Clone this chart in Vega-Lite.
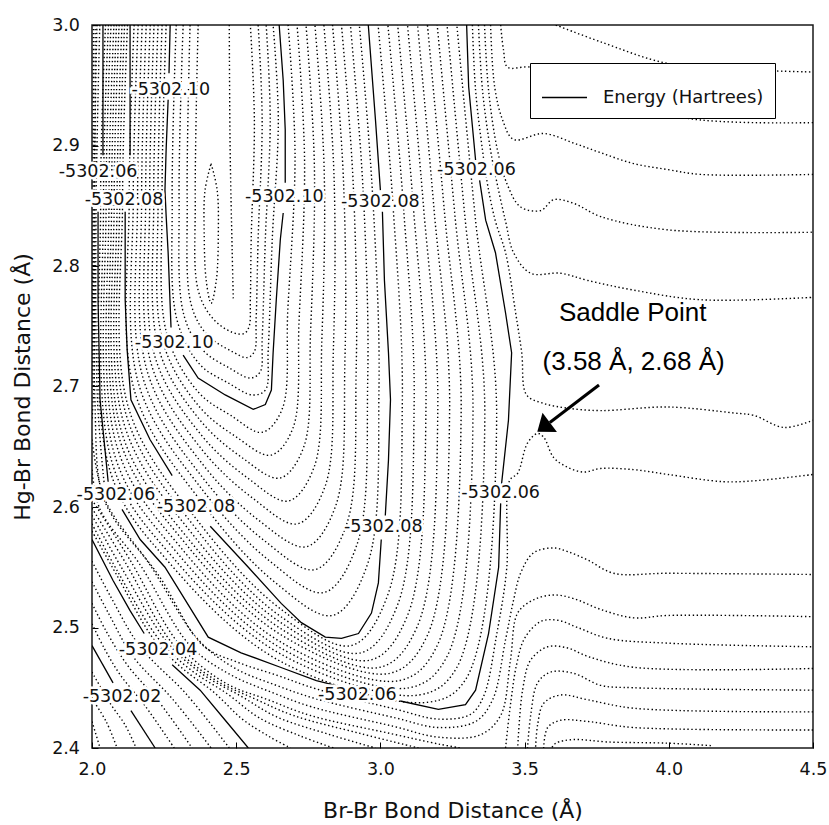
{
"$schema": "https://vega.github.io/schema/vega-lite/v6.json",
"width": 721, "height": 723,
"autosize": "none",
"padding": {"left": 92, "top": 25, "right": 16, "bottom": 77},
"background": "white",
"config": {
 "view": {"stroke": "#1a1a1a", "strokeWidth": 1.5},
 "axis": {"domain": false, "grid": false, "tickColor": "black", "tickSize": -6, "tickWidth": 1, "labelFont": "DejaVu Sans", "labelFontSize": 17.5, "labelColor": "#111", "labelPadding": 18.5, "labelFlush": false, "labelOverlap": false, "titleFont": "DejaVu Sans", "titleFontSize": 22, "titleFontWeight": "normal", "titleColor": "#111"},
 "axisX": {"titlePadding": 22},
 "axisY": {"titlePadding": 17}
},
"datasets": {
"solid": [
{"c":"S10a","x":2.271,"y":3.0},{"c":"S10a","x":2.267,"y":2.960},
{"c":"S10b","x":2.264,"y":2.938},{"c":"S10b","x":2.257,"y":2.896},{"c":"S10b","x":2.253,"y":2.863},{"c":"S10b","x":2.257,"y":2.842},{"c":"S10b","x":2.264,"y":2.811},{"c":"S10b","x":2.274,"y":2.749},
{"c":"S10c","x":2.316,"y":2.726},{"c":"S10c","x":2.368,"y":2.707},{"c":"S10c","x":2.462,"y":2.693},{"c":"S10c","x":2.559,"y":2.681},{"c":"S10c","x":2.601,"y":2.685},{"c":"S10c","x":2.622,"y":2.697},{"c":"S10c","x":2.628,"y":2.728},{"c":"S10c","x":2.639,"y":2.772},{"c":"S10c","x":2.653,"y":2.822},{"c":"S10c","x":2.663,"y":2.844},
{"c":"S10d","x":2.670,"y":2.869},{"c":"S10d","x":2.670,"y":2.913},{"c":"S10d","x":2.663,"y":2.954},{"c":"S10d","x":2.649,"y":3.0},
{"c":"S08a","x":2.132,"y":3.0},{"c":"S08a","x":2.132,"y":2.892},
{"c":"S08b","x":2.115,"y":2.845},{"c":"S08b","x":2.115,"y":2.772},{"c":"S08b","x":2.122,"y":2.730},{"c":"S08b","x":2.135,"y":2.689},{"c":"S08b","x":2.201,"y":2.656},{"c":"S08b","x":2.278,"y":2.626},
{"c":"S08c","x":2.410,"y":2.584},{"c":"S08c","x":2.542,"y":2.550},{"c":"S08c","x":2.656,"y":2.520},{"c":"S08c","x":2.726,"y":2.504},{"c":"S08c","x":2.809,"y":2.492},{"c":"S08c","x":2.865,"y":2.491},{"c":"S08c","x":2.924,"y":2.495},{"c":"S08c","x":2.969,"y":2.512},{"c":"S08c","x":2.993,"y":2.537},{"c":"S08c","x":3.003,"y":2.573},
{"c":"S08d","x":3.017,"y":2.593},{"c":"S08d","x":3.028,"y":2.639},{"c":"S08d","x":3.035,"y":2.689},{"c":"S08d","x":3.028,"y":2.728},{"c":"S08d","x":3.014,"y":2.788},{"c":"S08d","x":3.007,"y":2.845},
{"c":"S08e","x":3.0,"y":2.863},{"c":"S08e","x":2.983,"y":2.921},{"c":"S08e","x":2.958,"y":3.0},
{"c":"S06a","x":2.038,"y":3.0},{"c":"S06a","x":2.038,"y":2.892},
{"c":"S06b","x":2.021,"y":2.845},{"c":"S06b","x":2.021,"y":2.772},{"c":"S06b","x":2.028,"y":2.689},{"c":"S06b","x":2.056,"y":2.621},
{"c":"S06c","x":2.104,"y":2.598},{"c":"S06c","x":2.167,"y":2.573},{"c":"S06c","x":2.253,"y":2.550},{"c":"S06c","x":2.403,"y":2.492},{"c":"S06c","x":2.517,"y":2.479},{"c":"S06c","x":2.653,"y":2.467},{"c":"S06c","x":2.778,"y":2.456},{"c":"S06c","x":2.844,"y":2.452},
{"c":"S06d","x":3.069,"y":2.439},{"c":"S06d","x":3.201,"y":2.432},{"c":"S06d","x":3.295,"y":2.436},{"c":"S06d","x":3.330,"y":2.448},{"c":"S06d","x":3.375,"y":2.495},{"c":"S06d","x":3.410,"y":2.550},{"c":"S06d","x":3.417,"y":2.603},
{"c":"S06e","x":3.420,"y":2.619},{"c":"S06e","x":3.444,"y":2.672},{"c":"S06e","x":3.455,"y":2.728},{"c":"S06e","x":3.434,"y":2.761},{"c":"S06e","x":3.399,"y":2.811},{"c":"S06e","x":3.365,"y":2.838},{"c":"S06e","x":3.344,"y":2.871},
{"c":"S06f","x":3.330,"y":2.888},{"c":"S06f","x":3.306,"y":2.949},{"c":"S06f","x":3.299,"y":3.0},
{"c":"S04a","x":2.0,"y":2.573},{"c":"S04a","x":2.073,"y":2.539},{"c":"S04a","x":2.132,"y":2.514},{"c":"S04a","x":2.181,"y":2.495},
{"c":"S04b","x":2.278,"y":2.469},{"c":"S04b","x":2.375,"y":2.448},{"c":"S04b","x":2.462,"y":2.423},{"c":"S04b","x":2.542,"y":2.4},
{"c":"S02a","x":2.0,"y":2.485},{"c":"S02a","x":2.073,"y":2.454},
{"c":"S02b","x":2.135,"y":2.431},{"c":"S02b","x":2.219,"y":2.4}
],
"dots": [
{"c":"M1","x":2.257,"y":3.0},{"c":"M1","x":2.243,"y":2.855},{"c":"M1","x":2.260,"y":2.743},{"c":"M1","x":2.370,"y":2.695},{"c":"M1","x":2.481,"y":2.676},{"c":"M1","x":2.590,"y":2.662},{"c":"M1","x":2.659,"y":2.681},{"c":"M1","x":2.679,"y":2.764},{"c":"M1","x":2.704,"y":2.892},{"c":"M1","x":2.680,"y":3.0},
{"c":"M2","x":2.243,"y":3.0},{"c":"M2","x":2.229,"y":2.855},{"c":"M2","x":2.246,"y":2.737},{"c":"M2","x":2.373,"y":2.683},{"c":"M2","x":2.501,"y":2.658},{"c":"M2","x":2.620,"y":2.643},{"c":"M2","x":2.696,"y":2.665},{"c":"M2","x":2.718,"y":2.755},{"c":"M2","x":2.737,"y":2.888},{"c":"M2","x":2.711,"y":3.0},
{"c":"M3","x":2.229,"y":3.0},{"c":"M3","x":2.214,"y":2.855},{"c":"M3","x":2.232,"y":2.731},{"c":"M3","x":2.375,"y":2.672},{"c":"M3","x":2.520,"y":2.641},{"c":"M3","x":2.651,"y":2.624},{"c":"M3","x":2.733,"y":2.649},{"c":"M3","x":2.758,"y":2.747},{"c":"M3","x":2.771,"y":2.884},{"c":"M3","x":2.742,"y":3.0},
{"c":"M4","x":2.215,"y":3.0},{"c":"M4","x":2.200,"y":2.855},{"c":"M4","x":2.218,"y":2.725},{"c":"M4","x":2.378,"y":2.660},{"c":"M4","x":2.540,"y":2.624},{"c":"M4","x":2.681,"y":2.605},{"c":"M4","x":2.770,"y":2.633},{"c":"M4","x":2.797,"y":2.739},{"c":"M4","x":2.805,"y":2.880},{"c":"M4","x":2.773,"y":3.0},
{"c":"M5","x":2.202,"y":3.0},{"c":"M5","x":2.186,"y":2.855},{"c":"M5","x":2.205,"y":2.719},{"c":"M5","x":2.380,"y":2.648},{"c":"M5","x":2.559,"y":2.607},{"c":"M5","x":2.712,"y":2.586},{"c":"M5","x":2.808,"y":2.617},{"c":"M5","x":2.837,"y":2.731},{"c":"M5","x":2.839,"y":2.876},{"c":"M5","x":2.804,"y":3.0},
{"c":"M6","x":2.188,"y":3.0},{"c":"M6","x":2.172,"y":2.855},{"c":"M6","x":2.191,"y":2.713},{"c":"M6","x":2.382,"y":2.636},{"c":"M6","x":2.578,"y":2.589},{"c":"M6","x":2.743,"y":2.567},{"c":"M6","x":2.845,"y":2.601},{"c":"M6","x":2.877,"y":2.722},{"c":"M6","x":2.872,"y":2.871},{"c":"M6","x":2.834,"y":3.0},
{"c":"M7","x":2.174,"y":3.0},{"c":"M7","x":2.158,"y":2.855},{"c":"M7","x":2.177,"y":2.707},{"c":"M7","x":2.385,"y":2.624},{"c":"M7","x":2.598,"y":2.572},{"c":"M7","x":2.773,"y":2.548},{"c":"M7","x":2.882,"y":2.585},{"c":"M7","x":2.916,"y":2.714},{"c":"M7","x":2.906,"y":2.867},{"c":"M7","x":2.865,"y":3.0},
{"c":"M8","x":2.160,"y":3.0},{"c":"M8","x":2.143,"y":2.855},{"c":"M8","x":2.163,"y":2.701},{"c":"M8","x":2.387,"y":2.613},{"c":"M8","x":2.617,"y":2.555},{"c":"M8","x":2.804,"y":2.529},{"c":"M8","x":2.919,"y":2.569},{"c":"M8","x":2.956,"y":2.706},{"c":"M8","x":2.940,"y":2.863},{"c":"M8","x":2.896,"y":3.0},
{"c":"M9","x":2.146,"y":3.0},{"c":"M9","x":2.129,"y":2.855},{"c":"M9","x":2.149,"y":2.695},{"c":"M9","x":2.390,"y":2.601},{"c":"M9","x":2.637,"y":2.537},{"c":"M9","x":2.834,"y":2.510},{"c":"M9","x":2.956,"y":2.553},{"c":"M9","x":2.995,"y":2.698},{"c":"M9","x":2.973,"y":2.859},{"c":"M9","x":2.927,"y":3.0},
{"c":"N1","x":2.123,"y":3.0},{"c":"N1","x":2.106,"y":2.855},{"c":"N1","x":2.127,"y":2.682},{"c":"N1","x":2.378,"y":2.585},{"c":"N1","x":2.656,"y":2.515},{"c":"N1","x":2.899,"y":2.485},{"c":"N1","x":3.027,"y":2.528},{"c":"N1","x":3.076,"y":2.687},{"c":"N1","x":3.043,"y":2.853},{"c":"N1","x":2.992,"y":3.0},
{"c":"N2","x":2.113,"y":3.0},{"c":"N2","x":2.096,"y":2.855},{"c":"N2","x":2.119,"y":2.676},{"c":"N2","x":2.364,"y":2.581},{"c":"N2","x":2.655,"y":2.509},{"c":"N2","x":2.932,"y":2.479},{"c":"N2","x":3.060,"y":2.519},{"c":"N2","x":3.117,"y":2.686},{"c":"N2","x":3.079,"y":2.852},{"c":"N2","x":3.026,"y":3.0},
{"c":"N3","x":2.104,"y":3.0},{"c":"N3","x":2.087,"y":2.855},{"c":"N3","x":2.111,"y":2.669},{"c":"N3","x":2.350,"y":2.577},{"c":"N3","x":2.655,"y":2.504},{"c":"N3","x":2.966,"y":2.473},{"c":"N3","x":3.094,"y":2.510},{"c":"N3","x":3.158,"y":2.684},{"c":"N3","x":3.114,"y":2.850},{"c":"N3","x":3.060,"y":3.0},
{"c":"N4","x":2.094,"y":3.0},{"c":"N4","x":2.077,"y":2.855},{"c":"N4","x":2.103,"y":2.662},{"c":"N4","x":2.336,"y":2.573},{"c":"N4","x":2.655,"y":2.499},{"c":"N4","x":2.999,"y":2.467},{"c":"N4","x":3.128,"y":2.501},{"c":"N4","x":3.199,"y":2.682},{"c":"N4","x":3.150,"y":2.848},{"c":"N4","x":3.094,"y":3.0},
{"c":"N5","x":2.085,"y":3.0},{"c":"N5","x":2.068,"y":2.855},{"c":"N5","x":2.096,"y":2.656},{"c":"N5","x":2.323,"y":2.570},{"c":"N5","x":2.655,"y":2.494},{"c":"N5","x":3.033,"y":2.462},{"c":"N5","x":3.162,"y":2.493},{"c":"N5","x":3.240,"y":2.681},{"c":"N5","x":3.186,"y":2.847},{"c":"N5","x":3.129,"y":3.0},
{"c":"N6","x":2.076,"y":3.0},{"c":"N6","x":2.059,"y":2.855},{"c":"N6","x":2.088,"y":2.649},{"c":"N6","x":2.309,"y":2.566},{"c":"N6","x":2.654,"y":2.488},{"c":"N6","x":3.067,"y":2.456},{"c":"N6","x":3.195,"y":2.484},{"c":"N6","x":3.280,"y":2.679},{"c":"N6","x":3.222,"y":2.845},{"c":"N6","x":3.163,"y":3.0},
{"c":"N7","x":2.066,"y":3.0},{"c":"N7","x":2.049,"y":2.855},{"c":"N7","x":2.080,"y":2.642},{"c":"N7","x":2.295,"y":2.562},{"c":"N7","x":2.654,"y":2.483},{"c":"N7","x":3.100,"y":2.450},{"c":"N7","x":3.229,"y":2.475},{"c":"N7","x":3.321,"y":2.677},{"c":"N7","x":3.258,"y":2.843},{"c":"N7","x":3.197,"y":3.0},
{"c":"N8","x":2.057,"y":3.0},{"c":"N8","x":2.040,"y":2.855},{"c":"N8","x":2.072,"y":2.635},{"c":"N8","x":2.281,"y":2.558},{"c":"N8","x":2.654,"y":2.478},{"c":"N8","x":3.134,"y":2.444},{"c":"N8","x":3.263,"y":2.466},{"c":"N8","x":3.362,"y":2.675},{"c":"N8","x":3.293,"y":2.841},{"c":"N8","x":3.231,"y":3.0},
{"c":"N9","x":2.047,"y":3.0},{"c":"N9","x":2.030,"y":2.855},{"c":"N9","x":2.064,"y":2.629},{"c":"N9","x":2.267,"y":2.554},{"c":"N9","x":2.653,"y":2.472},{"c":"N9","x":3.167,"y":2.438},{"c":"N9","x":3.296,"y":2.457},{"c":"N9","x":3.403,"y":2.674},{"c":"N9","x":3.329,"y":2.840},{"c":"N9","x":3.265,"y":3.0},
{"c":"B1","x":2.292,"y":3.0},{"c":"B1","x":2.278,"y":2.855},{"c":"B1","x":2.295,"y":2.755},{"c":"B1","x":2.375,"y":2.718},{"c":"B1","x":2.472,"y":2.703},{"c":"B1","x":2.556,"y":2.693},{"c":"B1","x":2.601,"y":2.697},{"c":"B1","x":2.611,"y":2.730},{"c":"B1","x":2.625,"y":2.822},{"c":"B1","x":2.646,"y":2.921},{"c":"B1","x":2.628,"y":3.0},
{"c":"B2","x":2.316,"y":3.0},{"c":"B2","x":2.302,"y":2.855},{"c":"B2","x":2.319,"y":2.759},{"c":"B2","x":2.385,"y":2.730},{"c":"B2","x":2.479,"y":2.715},{"c":"B2","x":2.549,"y":2.707},{"c":"B2","x":2.583,"y":2.712},{"c":"B2","x":2.590,"y":2.739},{"c":"B2","x":2.601,"y":2.822},{"c":"B2","x":2.618,"y":2.921},{"c":"B2","x":2.604,"y":3.0},
{"c":"B3","x":2.340,"y":3.0},{"c":"B3","x":2.330,"y":2.855},{"c":"B3","x":2.344,"y":2.768},{"c":"B3","x":2.399,"y":2.743},{"c":"B3","x":2.486,"y":2.729},{"c":"B3","x":2.538,"y":2.724},{"c":"B3","x":2.563,"y":2.729},{"c":"B3","x":2.569,"y":2.755},{"c":"B3","x":2.576,"y":2.822},{"c":"B3","x":2.590,"y":2.921},{"c":"B3","x":2.576,"y":3.0},
{"c":"B4","x":2.368,"y":3.0},{"c":"B4","x":2.358,"y":2.855},{"c":"B4","x":2.368,"y":2.780},{"c":"B4","x":2.417,"y":2.757},{"c":"B4","x":2.486,"y":2.745},{"c":"B4","x":2.528,"y":2.744},{"c":"B4","x":2.545,"y":2.750},{"c":"B4","x":2.549,"y":2.772},{"c":"B4","x":2.552,"y":2.822},{"c":"B4","x":2.563,"y":2.921},{"c":"B4","x":2.549,"y":3.0},
{"c":"B5","x":2.413,"y":2.885},{"c":"B5","x":2.434,"y":2.863},{"c":"B5","x":2.438,"y":2.827},{"c":"B5","x":2.431,"y":2.788},{"c":"B5","x":2.413,"y":2.769},{"c":"B5","x":2.396,"y":2.788},{"c":"B5","x":2.389,"y":2.827},{"c":"B5","x":2.392,"y":2.863},{"c":"B5","x":2.413,"y":2.885},
{"c":"B6","x":2.476,"y":3.0},{"c":"B6","x":2.479,"y":2.896},{"c":"B6","x":2.486,"y":2.813},{"c":"B6","x":2.490,"y":2.772},
{"c":"U0","x":3.608,"y":3.0},{"c":"U0","x":3.764,"y":2.986},{"c":"U0","x":3.997,"y":2.968},{"c":"U0","x":4.250,"y":2.963},{"c":"U0","x":4.5,"y":2.961},
{"c":"U1","x":3.417,"y":3.0},{"c":"U1","x":3.427,"y":2.979},{"c":"U1","x":3.441,"y":2.965},{"c":"U1","x":3.521,"y":2.965},{"c":"U1","x":3.764,"y":2.946},{"c":"U1","x":4.052,"y":2.923},{"c":"U1","x":4.5,"y":2.919},
{"c":"U2","x":3.382,"y":3.0},{"c":"U2","x":3.396,"y":2.949},{"c":"U2","x":3.424,"y":2.921},{"c":"U2","x":3.462,"y":2.905},{"c":"U2","x":3.566,"y":2.910},{"c":"U2","x":3.670,"y":2.902},{"c":"U2","x":3.764,"y":2.894},{"c":"U2","x":3.878,"y":2.885},{"c":"U2","x":3.997,"y":2.880},{"c":"U2","x":4.111,"y":2.876},{"c":"U2","x":4.5,"y":2.876},
{"c":"U3","x":3.361,"y":3.0},{"c":"U3","x":3.375,"y":2.946},{"c":"U3","x":3.406,"y":2.896},{"c":"U3","x":3.441,"y":2.867},{"c":"U3","x":3.486,"y":2.849},{"c":"U3","x":3.556,"y":2.846},{"c":"U3","x":3.601,"y":2.855},{"c":"U3","x":3.670,"y":2.852},{"c":"U3","x":3.764,"y":2.841},{"c":"U3","x":3.997,"y":2.830},{"c":"U3","x":4.5,"y":2.828},
{"c":"U4","x":3.340,"y":3.0},{"c":"U4","x":3.354,"y":2.946},{"c":"U4","x":3.382,"y":2.896},{"c":"U4","x":3.406,"y":2.867},{"c":"U4","x":3.434,"y":2.837},{"c":"U4","x":3.462,"y":2.811},{"c":"U4","x":3.521,"y":2.794},{"c":"U4","x":3.625,"y":2.794},{"c":"U4","x":3.719,"y":2.788},{"c":"U4","x":3.878,"y":2.780},{"c":"U4","x":4.111,"y":2.772},{"c":"U4","x":4.5,"y":2.774},
{"c":"U5","x":3.319,"y":3.0},{"c":"U5","x":3.330,"y":2.946},{"c":"U5","x":3.354,"y":2.896},{"c":"U5","x":3.372,"y":2.867},{"c":"U5","x":3.399,"y":2.837},{"c":"U5","x":3.434,"y":2.811},{"c":"U5","x":3.469,"y":2.761},{"c":"U5","x":3.490,"y":2.728},{"c":"U5","x":3.507,"y":2.693},{"c":"U5","x":3.566,"y":2.686},{"c":"U5","x":3.649,"y":2.682},{"c":"U5","x":3.764,"y":2.680},{"c":"U5","x":3.997,"y":2.683},{"c":"U5","x":4.226,"y":2.678},{"c":"U5","x":4.295,"y":2.676},{"c":"U5","x":4.399,"y":2.666},{"c":"U5","x":4.5,"y":2.672},
{"c":"W1","x":2.017,"y":3.0},{"c":"W1","x":2.007,"y":2.845},{"c":"W1","x":2.010,"y":2.689},{"c":"W1","x":2.028,"y":2.618},{"c":"W1","x":2.069,"y":2.593},{"c":"W1","x":2.229,"y":2.544},{"c":"W1","x":2.385,"y":2.485},{"c":"W1","x":2.507,"y":2.471},{"c":"W1","x":2.646,"y":2.460},{"c":"W1","x":2.778,"y":2.449},{"c":"W1","x":3.056,"y":2.432},{"c":"W1","x":3.201,"y":2.424},{"c":"W1","x":3.313,"y":2.428},{"c":"W1","x":3.358,"y":2.443},{"c":"W1","x":3.403,"y":2.494},{"c":"W1","x":3.438,"y":2.549},{"c":"W1","x":3.448,"y":2.622},{"c":"W1","x":3.476,"y":2.628},{"c":"W1","x":3.510,"y":2.653},{"c":"W1","x":3.545,"y":2.661},{"c":"W1","x":3.566,"y":2.658},{"c":"W1","x":3.601,"y":2.641},{"c":"W1","x":3.649,"y":2.633},{"c":"W1","x":3.705,"y":2.629},{"c":"W1","x":3.764,"y":2.632},{"c":"W1","x":3.878,"y":2.631},{"c":"W1","x":3.997,"y":2.627},{"c":"W1","x":4.191,"y":2.621},{"c":"W1","x":4.309,"y":2.622},{"c":"W1","x":4.5,"y":2.627},
{"c":"W2","x":2.0,"y":2.656},{"c":"W2","x":2.045,"y":2.606},{"c":"W2","x":2.201,"y":2.552},{"c":"W2","x":2.368,"y":2.490},{"c":"W2","x":2.497,"y":2.466},{"c":"W2","x":2.639,"y":2.452},{"c":"W2","x":2.774,"y":2.441},{"c":"W2","x":3.052,"y":2.425},{"c":"W2","x":3.201,"y":2.417},{"c":"W2","x":3.330,"y":2.422},{"c":"W2","x":3.389,"y":2.440},{"c":"W2","x":3.434,"y":2.490},{"c":"W2","x":3.462,"y":2.523},{"c":"W2","x":3.486,"y":2.545},{"c":"W2","x":3.531,"y":2.562},{"c":"W2","x":3.601,"y":2.566},{"c":"W2","x":3.649,"y":2.563},{"c":"W2","x":3.719,"y":2.556},{"c":"W2","x":3.809,"y":2.545},{"c":"W2","x":3.997,"y":2.545},{"c":"W2","x":4.5,"y":2.544},
{"c":"W3","x":2.0,"y":2.631},{"c":"W3","x":2.028,"y":2.598},{"c":"W3","x":2.167,"y":2.552},{"c":"W3","x":2.340,"y":2.485},{"c":"W3","x":2.479,"y":2.461},{"c":"W3","x":2.625,"y":2.446},{"c":"W3","x":2.764,"y":2.434},{"c":"W3","x":3.045,"y":2.418},{"c":"W3","x":3.201,"y":2.409},{"c":"W3","x":3.347,"y":2.411},{"c":"W3","x":3.417,"y":2.427},{"c":"W3","x":3.451,"y":2.473},{"c":"W3","x":3.476,"y":2.512},{"c":"W3","x":3.531,"y":2.523},{"c":"W3","x":3.601,"y":2.527},{"c":"W3","x":3.670,"y":2.524},{"c":"W3","x":3.764,"y":2.515},{"c":"W3","x":3.878,"y":2.508},{"c":"W3","x":3.997,"y":2.510},{"c":"W3","x":4.5,"y":2.509},
{"c":"W4","x":2.0,"y":2.606},{"c":"W4","x":2.132,"y":2.556},{"c":"W4","x":2.306,"y":2.485},{"c":"W4","x":2.462,"y":2.454},{"c":"W4","x":2.611,"y":2.440},{"c":"W4","x":2.757,"y":2.427},{"c":"W4","x":3.035,"y":2.412},{"c":"W4","x":3.208,"y":2.403},{"c":"W4","x":3.278,"y":2.4},
{"c":"L4","x":3.434,"y":2.4},{"c":"L4","x":3.451,"y":2.436},{"c":"L4","x":3.472,"y":2.469},{"c":"L4","x":3.500,"y":2.491},{"c":"L4","x":3.556,"y":2.505},{"c":"L4","x":3.615,"y":2.506},{"c":"L4","x":3.684,"y":2.500},{"c":"L4","x":3.788,"y":2.491},{"c":"L4","x":3.997,"y":2.487},{"c":"L4","x":4.5,"y":2.484},
{"c":"L5","x":4.5,"y":2.466},{"c":"L5","x":3.878,"y":2.467},{"c":"L5","x":3.719,"y":2.476},{"c":"L5","x":3.649,"y":2.483},{"c":"L5","x":3.580,"y":2.484},{"c":"L5","x":3.521,"y":2.473},{"c":"L5","x":3.493,"y":2.448},{"c":"L5","x":3.476,"y":2.4},
{"c":"L6","x":4.5,"y":2.448},{"c":"L6","x":3.878,"y":2.450},{"c":"L6","x":3.764,"y":2.452},{"c":"L6","x":3.670,"y":2.462},{"c":"L6","x":3.590,"y":2.463},{"c":"L6","x":3.545,"y":2.454},{"c":"L6","x":3.521,"y":2.427},{"c":"L6","x":3.510,"y":2.4},
{"c":"L7","x":4.5,"y":2.430},{"c":"L7","x":3.878,"y":2.433},{"c":"L7","x":3.719,"y":2.440},{"c":"L7","x":3.625,"y":2.444},{"c":"L7","x":3.566,"y":2.437},{"c":"L7","x":3.545,"y":2.419},{"c":"L7","x":3.538,"y":2.4},
{"c":"L8","x":4.5,"y":2.415},{"c":"L8","x":3.878,"y":2.417},{"c":"L8","x":3.719,"y":2.422},{"c":"L8","x":3.625,"y":2.423},{"c":"L8","x":3.580,"y":2.417},{"c":"L8","x":3.566,"y":2.4},
{"c":"L9","x":4.146,"y":2.402},{"c":"L9","x":3.997,"y":2.404},{"c":"L9","x":3.788,"y":2.405},{"c":"L9","x":3.670,"y":2.407},{"c":"L9","x":3.608,"y":2.404},{"c":"L9","x":3.594,"y":2.4},
{"c":"X1","x":2.0,"y":2.599},{"c":"X1","x":2.118,"y":2.553},{"c":"X1","x":2.281,"y":2.486},{"c":"X1","x":2.424,"y":2.457},{"c":"X1","x":2.563,"y":2.441},{"c":"X1","x":2.698,"y":2.427},{"c":"X1","x":2.931,"y":2.412},{"c":"X1","x":3.132,"y":2.4},
{"c":"X2","x":2.0,"y":2.593},{"c":"X2","x":2.104,"y":2.549},{"c":"X2","x":2.260,"y":2.488},{"c":"X2","x":2.385,"y":2.461},{"c":"X2","x":2.517,"y":2.443},{"c":"X2","x":2.639,"y":2.426},{"c":"X2","x":2.826,"y":2.411},{"c":"X2","x":2.983,"y":2.4},
{"c":"X3","x":2.0,"y":2.586},{"c":"X3","x":2.090,"y":2.546},{"c":"X3","x":2.236,"y":2.489},{"c":"X3","x":2.347,"y":2.464},{"c":"X3","x":2.469,"y":2.445},{"c":"X3","x":2.580,"y":2.425},{"c":"X3","x":2.722,"y":2.410},{"c":"X3","x":2.837,"y":2.4},
{"c":"X4","x":2.0,"y":2.580},{"c":"X4","x":2.087,"y":2.543},{"c":"X4","x":2.215,"y":2.490},{"c":"X4","x":2.309,"y":2.467},{"c":"X4","x":2.424,"y":2.446},{"c":"X4","x":2.521,"y":2.424},{"c":"X4","x":2.618,"y":2.409},{"c":"X4","x":2.688,"y":2.4},
{"c":"Y1","x":2.0,"y":2.555},{"c":"Y1","x":2.066,"y":2.525},{"c":"Y1","x":2.167,"y":2.484},{"c":"Y1","x":2.326,"y":2.445},{"c":"Y1","x":2.476,"y":2.4},
{"c":"Y2","x":2.0,"y":2.538},{"c":"Y2","x":2.059,"y":2.511},{"c":"Y2","x":2.142,"y":2.476},{"c":"Y2","x":2.278,"y":2.441},{"c":"Y2","x":2.413,"y":2.4},
{"c":"Y3","x":2.0,"y":2.520},{"c":"Y3","x":2.049,"y":2.497},{"c":"Y3","x":2.122,"y":2.469},{"c":"Y3","x":2.233,"y":2.438},{"c":"Y3","x":2.347,"y":2.4},
{"c":"Y4","x":2.0,"y":2.503},{"c":"Y4","x":2.042,"y":2.483},{"c":"Y4","x":2.097,"y":2.461},{"c":"Y4","x":2.184,"y":2.435},{"c":"Y4","x":2.285,"y":2.4},
{"c":"Z1","x":2.0,"y":2.463},{"c":"Z1","x":2.063,"y":2.437},{"c":"Z1","x":2.115,"y":2.419},{"c":"Z1","x":2.153,"y":2.4},
{"c":"Z2","x":2.0,"y":2.441},{"c":"Z2","x":2.049,"y":2.422},{"c":"Z2","x":2.087,"y":2.4},
{"c":"Z3","x":2.0,"y":2.422},{"c":"Z3","x":2.028,"y":2.4},
{"c":"V1","x":2.005,"y":3.0},{"c":"V1","x":2.003,"y":2.80},{"c":"V1","x":2.0,"y":2.70},
{"c":"V2","x":2.011,"y":3.0},{"c":"V2","x":2.009,"y":2.80},{"c":"V2","x":2.006,"y":2.70},{"c":"V2","x":2.0,"y":2.672},
{"c":"V3","x":2.027,"y":3.0},{"c":"V3","x":2.014,"y":2.845},{"c":"V3","x":2.019,"y":2.689},{"c":"V3","x":2.042,"y":2.620}
],
"labs": [
{"t":"-5302.10","x":2.273,"y":2.946},
{"t":"-5302.06","x":2.021,"y":2.878},
{"t":"-5302.08","x":2.111,"y":2.855},
{"t":"-5302.10","x":2.667,"y":2.857},
{"t":"-5302.08","x":3.0,"y":2.853},
{"t":"-5302.06","x":3.333,"y":2.880},
{"t":"-5302.10","x":2.285,"y":2.736},
{"t":"-5302.06","x":2.083,"y":2.610},
{"t":"-5302.08","x":2.361,"y":2.600},
{"t":"-5302.08","x":3.010,"y":2.583},
{"t":"-5302.06","x":3.417,"y":2.612},
{"t":"-5302.04","x":2.229,"y":2.481},
{"t":"-5302.02","x":2.104,"y":2.442},
{"t":"-5302.06","x":2.920,"y":2.444}
],
"notes": [
{"t":"Saddle Point","x":3.875,"y":2.761},
{"t":"(3.58 Å, 2.68 Å)","x":3.878,"y":2.720}
],
"arrow": [{"x":3.758,"y":2.7012,"x2":3.5875,"y2":2.6701}],
"head": [{"x":3.5656,"y":2.6664}]
},
"encoding": {
 "x": {"field": "x", "type": "quantitative", "scale": {"domain": [2, 4.5], "nice": false, "zero": false}, "axis": {"title": "Br-Br Bond Distance (Å)", "values": [2, 2.5, 3, 3.5, 4, 4.5], "format": ".1f"}},
 "y": {"field": "y", "type": "quantitative", "scale": {"domain": [2.4, 3.0], "nice": false, "zero": false}, "axis": {"title": "Hg-Br Bond Distance (Å)", "values": [2.4, 2.5, 2.6, 2.7, 2.8, 2.9, 3.0], "format": ".1f"}}
},
"layer": [
 {"data": {"name": "dots"}, "transform": [{"window": [{"op": "row_number", "as": "i"}], "groupby": ["c"]}],
  "mark": {"type": "line", "interpolate": "catmull-rom", "strokeDash": [1.4, 2.6], "strokeWidth": 1.4, "color": "black", "clip": true},
  "encoding": {"detail": {"field": "c"}, "order": {"field": "i", "type": "quantitative"}}},
 {"data": {"name": "solid"}, "transform": [{"window": [{"op": "row_number", "as": "i"}], "groupby": ["c"]}],
  "mark": {"type": "line", "strokeWidth": 1.3, "clip": true},
  "encoding": {"detail": {"field": "c"}, "order": {"field": "i", "type": "quantitative"},
   "stroke": {"datum": "Energy (Hartrees)", "type": "nominal", "scale": {"range": ["black"]},
    "legend": {"title": null, "orient": "none", "legendX": 438, "legendY": 38, "symbolType": "stroke", "symbolSize": 2025, "symbolStrokeWidth": 1.3, "symbolStrokeColor": "black", "labelFont": "DejaVu Sans", "labelFontSize": 18, "labelLimit": 400, "labelColor": "#111", "labelOffset": 15, "padding": 11, "strokeColor": "black", "fillColor": "white"}}}},
 {"data": {"name": "labs"}, "mark": {"type": "text", "font": "DejaVu Sans", "fontSize": 17.5, "fill": "white", "stroke": "white", "strokeWidth": 5, "align": "center", "baseline": "middle"}, "encoding": {"text": {"field": "t"}}},
 {"data": {"name": "labs"}, "mark": {"type": "text", "font": "DejaVu Sans", "fontSize": 17.5, "color": "#111", "align": "center", "baseline": "middle"}, "encoding": {"text": {"field": "t"}}},
 {"data": {"name": "arrow"}, "mark": {"type": "rule", "strokeWidth": 3, "color": "black"}, "encoding": {"x2": {"field": "x2"}, "y2": {"field": "y2"}}},
 {"data": {"name": "head"}, "mark": {"type": "point", "shape": "M0,-0.65L-1,0.65L1,0.65Z", "size": 576, "angle": 233, "filled": true, "color": "black", "opacity": 1}},
 {"data": {"name": "notes"}, "mark": {"type": "text", "font": "Liberation Sans", "fontSize": 26, "color": "black", "align": "center", "baseline": "middle"}, "encoding": {"text": {"field": "t"}}}
]
}
